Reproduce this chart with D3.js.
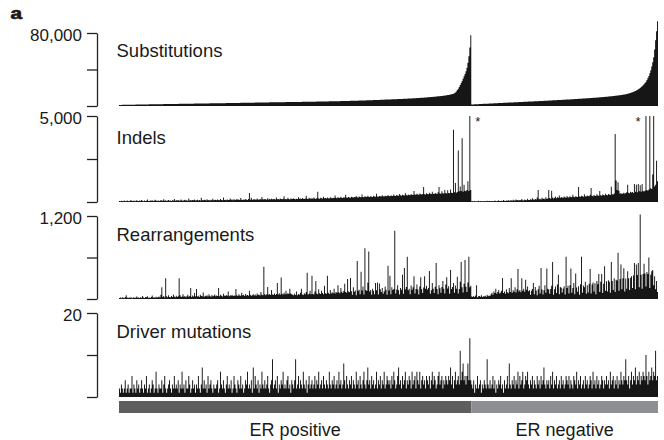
<!DOCTYPE html>
<html>
<head>
<meta charset="utf-8">
<script src="https://cdn.jsdelivr.net/npm/d3@7"></script>
<style>
  html, body { margin: 0; padding: 0; background: #fff; }
  svg { display: block; }
  text { font-family: "Liberation Sans", Arial, Helvetica, sans-serif; fill: #1a1a1a; }
</style>
</head>
<body>
<svg id="chart" width="664" height="440"></svg>
<script>
// Samples are ordered by substitution burden within each ER group.
const groups = ["ER positive", "ER negative"];
const panelTitles = ["Substitutions", "Indels", "Rearrangements", "Driver mutations"];
const axisMax = [80000, 5000, 1200, 20];

// Substitutions per sample
const subsPos = [
  1180,1210,1230,1260,1270,1300,1310,1340,1360,1370,1400,1410,1430,1460,1470,1490,1500,1530,1550,1560,
  1580,1600,1610,1640,1660,1670,1690,1720,1730,1750,1760,1790,1810,1820,1850,1860,1880,1900,1910,1940,
  1950,1970,1990,2000,2020,2050,2060,2080,2090,2110,2130,2140,2170,2180,2200,2210,2240,2250,2270,2290,
  2300,2320,2340,2360,2370,2390,2410,2420,2450,2460,2480,2490,2510,2530,2540,2570,2580,2600,2610,2630,
  2650,2660,2690,2700,2720,2730,2750,2770,2780,2800,2820,2830,2860,2870,2890,2900,2920,2940,2950,2970,
  2990,3000,3020,3040,3050,3070,3090,3100,3120,3140,3150,3170,3190,3200,3220,3240,3260,3270,3290,3310,
  3320,3340,3360,3380,3390,3410,3430,3450,3460,3480,3500,3520,3540,3550,3570,3590,3610,3630,3640,3660,
  3680,3700,3720,3740,3750,3770,3790,3810,3830,3850,3870,3890,3900,3920,3940,3960,3980,4000,4020,4040,
  4050,4070,4080,4100,4110,4130,4140,4160,4170,4190,4200,4220,4230,4250,4270,4280,4300,4310,4330,4350,
  4360,4380,4400,4410,4430,4450,4460,4480,4500,4520,4530,4550,4570,4590,4600,4620,4640,4660,4680,4700,
  4710,4730,4750,4770,4790,4810,4830,4850,4870,4890,4910,4930,4950,4970,4990,5010,5040,5060,5080,5100,
  5120,5150,5170,5190,5220,5240,5260,5290,5310,5340,5360,5390,5410,5440,5460,5490,5520,5540,5570,5600,
  5630,5660,5690,5720,5750,5780,5810,5840,5870,5900,5940,5970,6000,6040,6070,6110,6140,6180,6220,6250,
  6290,6330,6370,6410,6450,6490,6530,6580,6620,6660,6710,6750,6800,6850,6890,6940,6990,7040,7090,7150,
  7180,7220,7260,7300,7340,7380,7420,7460,7500,7540,7590,7630,7680,7720,7770,7810,7860,7910,7960,8020,
  8100,8160,8220,8280,8340,8400,8470,8530,8600,8660,8730,8800,8870,8940,9010,9090,9160,9240,9320,9400,
  9480,9560,9650,9740,9830,9920,10020,10120,10220,10330,10440,10550,10670,10790,10920,11050,11190,11330,11480,11640,
  11800,11980,12170,12370,12590,12830,13090,13380,14000,14900,16000,17400,19000,20900,22900,25100,27500,30000,32600,35200,
  38200,42000,47500,54500,64000,77500
];
const subsNeg = [
  1600,1680,1750,1810,1880,1940,2000,2050,2110,2170,2220,2280,2330,2390,2440,2500,2550,2600,2660,2710,
  2760,2810,2870,2920,2970,3020,3080,3130,3180,3230,3290,3340,3390,3440,3500,3550,3600,3650,3700,3760,
  3810,3860,3910,3960,4010,4070,4120,4170,4220,4270,4330,4380,4430,4480,4530,4590,4640,4690,4740,4800,
  4850,4900,4960,5010,5060,5120,5170,5220,5280,5330,5390,5440,5500,5550,5610,5660,5720,5770,5830,5890,
  5940,6000,6060,6110,6170,6230,6290,6350,6400,6460,6520,6580,6640,6700,6760,6820,6880,6940,7000,7070,
  7130,7190,7250,7320,7380,7440,7510,7570,7640,7700,7770,7840,7900,7970,8040,8110,8180,8250,8320,8390,
  8460,8530,8610,8680,8760,8830,8910,8990,9070,9150,9230,9310,9400,9480,9570,9660,9750,9840,9940,10030,
  10130,10230,10340,10440,10550,10660,10780,10900,11020,11150,11280,11420,11560,11710,11860,12020,12190,12360,12540,12730,
  12950,13200,13460,13740,14040,14370,14720,15100,15520,15980,16480,17030,17640,18300,19030,19830,20700,21650,22700,23850,
  25200,26700,28500,30600,33000,35900,39300,43300,48000,53500,62000,72000,82000,93000
];

// Indels per sample
const indelPos = [
  60,45,70,55,40,80,65,50,90,60,45,75,120,55,60,85,50,70,95,60,
  55,80,65,110,70,50,90,60,75,140,65,55,85,70,100,60,75,130,80,65,
  90,70,60,115,85,75,160,70,95,65,80,120,75,90,60,105,85,170,70,95,
  80,110,75,90,150,85,70,100,130,80,95,75,210,90,110,85,120,95,140,80,
  100,130,90,115,85,240,105,95,125,110,90,160,100,120,85,135,105,190,95,115,
  125,100,145,110,95,170,120,105,260,115,130,100,150,120,110,200,125,140,105,160,
  130,115,180,125,140,110,230,135,120,150,125,165,140,120,170,520,130,250,135,150,
  160,140,125,200,150,135,175,145,290,155,140,180,160,135,220,150,170,145,190,160,
  155,175,140,260,165,180,150,210,170,155,190,330,165,180,160,240,175,150,200,185,
  170,220,180,160,195,175,280,185,200,170,230,190,175,210,360,195,180,250,200,185,
  215,190,260,205,180,230,590,210,195,240,220,205,300,215,230,200,260,225,210,280,
  230,215,250,235,380,240,220,270,245,230,300,250,235,275,255,420,260,240,290,265,
  250,310,270,255,290,275,350,280,260,320,290,270,440,295,280,330,300,285,370,305,
  290,340,310,295,360,320,300,480,325,310,350,330,315,390,340,320,370,345,330,410,
  350,335,380,360,345,430,370,355,400,380,365,470,390,370,420,395,380,520,400,385,
  430,410,395,460,420,405,640,430,415,480,440,420,500,445,430,470,870,455,440,510,
  465,450,540,475,460,600,480,465,520,490,470,560,870,500,480,620,510,490,700,520,
  500,680,530,510,720,540,520,4200,560,1100,540,580,3000,620,900,640,3700,600,1000,650,
  620,700,1200,640,7500,700
];
const indelNeg = [
  40,55,35,60,45,50,40,70,45,55,50,40,65,45,60,50,75,45,55,60,
  50,65,55,45,80,60,50,70,90,55,65,75,60,110,70,65,85,75,95,70,
  85,100,75,130,90,80,150,95,110,85,120,100,170,105,90,140,115,100,190,120,
  110,160,130,220,140,125,180,150,260,700,165,190,150,240,175,200,160,280,185,210,
  700,230,190,650,260,210,240,300,220,270,250,380,230,290,260,240,320,270,250,350,
  280,260,330,290,270,420,300,280,340,310,290,870,320,300,360,330,310,450,340,320,
  380,350,330,420,820,360,340,400,370,350,450,380,360,640,390,370,430,400,380,480,
  410,390,460,430,410,880,450,430,500,3950,1250,700,1150,650,480,520,460,500,540,480,
  520,560,1000,540,510,600,550,580,530,1050,600,1000,570,1050,620,980,590,1040,640,610,
  660,7000,700,650,720,7000,800,760,1600,7000,900,1000,2400,1200
];

// Structural rearrangements per sample
const rearrPos = [
  15,20,12,25,18,10,30,55,22,14,20,16,28,12,18,24,15,20,35,17,
  22,14,26,18,45,20,16,30,24,40,18,22,15,28,50,20,25,18,32,22,
  26,35,20,60,170,28,45,22,300,38,25,55,30,24,42,28,65,35,26,48,
  30,40,300,55,28,36,70,32,45,26,38,60,34,42,160,30,50,36,85,40,
  145,35,48,30,60,42,38,95,33,46,40,55,36,70,44,32,58,40,48,65,
  38,52,44,160,40,60,48,36,75,50,42,58,46,110,40,55,48,62,44,52,
  48,145,56,42,68,50,46,90,54,60,44,72,50,58,46,120,62,48,56,70,
  52,64,48,80,58,66,50,100,62,56,465,70,54,68,175,60,74,58,130,66,
  62,80,58,72,230,66,84,60,310,76,64,90,70,120,68,86,74,150,78,70,
  62,54,80,58,110,56,72,60,90,150,66,58,84,70,100,380,64,76,120,68,
  335,74,66,110,260,78,70,140,82,72,120,88,70,190,84,76,335,92,74,130,
  80,96,84,150,78,102,90,200,98,82,160,106,88,116,220,100,90,290,108,96,
  305,112,60,170,106,124,55,550,118,132,70,395,122,180,65,735,130,116,240,685,
  110,130,60,150,118,70,230,126,240,65,225,140,100,160,75,108,180,134,60,480,
  124,335,70,170,130,146,985,80,136,200,126,65,160,132,350,75,450,140,172,610,
  128,150,70,196,134,170,330,80,146,210,138,65,180,315,142,85,166,330,148,190,
  136,160,405,75,128,230,150,85,176,520,146,70,200,156,90,172,260,148,80,210,
  315,152,186,75,420,146,174,230,90,196,150,320,80,144,250,535,170,95,220,565,
  178,100,240,610,170,190
];
const rearrNeg = [
  35,28,42,30,50,200,26,38,44,32,55,30,40,36,48,34,60,40,52,45,
  70,90,60,110,85,150,75,100,130,80,95,120,305,88,110,76,140,96,84,160,
  100,300,90,125,105,170,95,140,435,110,130,98,300,120,150,104,280,135,180,112,
  125,60,118,145,230,70,175,122,55,140,190,80,450,136,65,126,200,90,440,150,
  138,75,146,190,535,60,140,180,85,210,350,70,175,162,95,152,185,65,610,158,
  190,80,200,440,90,160,230,70,370,168,105,186,60,215,610,90,196,170,250,75,
  200,95,220,435,80,210,240,110,226,70,260,214,360,100,250,360,85,222,475,120,
  256,110,270,250,90,535,262,130,300,100,280,266,670,120,290,500,140,300,445,110,
  296,150,400,300,130,306,330,160,340,520,140,500,346,520,170,1220,350,150,360,510,
  370,180,390,360,600,160,350,400,420,200,330,140,260,100
];

// Driver mutations per sample
const driverPos = [
  2,1,3,2,1,2,4,1,2,3,1,2,2,5,1,3,2,1,4,2,
  3,1,2,4,2,1,3,2,5,1,2,3,1,2,4,3,1,2,6,2,
  1,3,2,2,4,1,3,5,2,1,2,3,4,2,1,3,2,5,2,3,
  2,4,1,3,2,6,2,3,1,4,2,2,5,3,1,2,4,2,3,1,
  3,2,5,2,1,3,7,2,4,2,3,1,5,2,3,4,2,1,3,2,
  2,3,4,1,2,6,3,2,4,2,1,3,5,2,3,2,4,1,2,5,
  3,2,1,4,3,2,5,2,3,1,2,4,3,6,2,3,2,4,1,7,
  2,5,3,2,4,1,3,2,6,3,2,4,2,3,5,2,1,3,4,9,
  2,3,4,2,5,1,3,2,4,3,6,2,3,2,4,5,2,3,1,4,
  3,2,4,9,2,3,5,2,4,3,2,6,3,2,4,1,3,5,2,3,
  4,2,3,5,2,4,3,6,2,3,4,2,5,3,2,4,3,2,6,3,
  2,4,3,5,2,3,4,2,6,3,4,2,3,8,4,2,5,3,2,4,
  3,5,2,4,3,2,6,3,4,2,5,3,2,4,6,3,2,4,7,3,
  4,2,5,3,4,2,3,6,2,4,3,5,2,4,3,6,2,3,5,4,
  3,4,2,5,3,6,4,2,3,5,7,3,4,2,5,3,4,6,2,4,
  3,5,4,2,6,3,4,5,2,6,4,3,6,2,4,5,3,4,2,5,
  4,3,5,2,4,6,3,5,4,2,3,5,6,3,4,5,2,4,3,5,
  4,3,5,4,7,3,5,2,4,6,3,4,5,3,11,4,6,8,4,5,
  3,5,8,4,14,4
];
const driverNeg = [
  3,2,4,1,3,2,5,2,3,4,1,3,2,4,3,2,9,3,2,4,
  2,3,5,2,4,1,3,2,4,3,5,2,3,1,4,2,3,5,2,8,
  3,2,4,3,5,2,4,3,6,2,5,3,4,6,2,3,5,4,6,3,
  2,4,3,5,2,4,3,2,5,3,4,2,5,3,4,7,3,2,4,3,
  4,2,5,3,6,2,4,3,5,2,3,4,2,5,3,4,2,3,5,4,
  3,5,2,4,3,2,5,4,3,6,2,4,3,5,2,3,4,2,5,3,
  4,2,3,5,4,2,6,3,4,2,5,3,4,2,3,5,4,2,4,3,
  5,3,4,2,6,3,4,5,2,4,3,5,2,4,3,6,4,3,5,4,
  9,4,3,5,2,4,6,3,5,4,7,3,5,4,6,3,5,4,6,5,
  4,10,5,3,6,4,5,7,4,6,5,11,4,5
];

// ---- layout -------------------------------------------------------------
const svg = d3.select("#chart");
const axisX = 97;
const plotLeft = 119, plotRight = 658;
const barColor = "#161616";
const groupColors = ["#5e5e5e", "#8e8f92"];

// vertical extent of each panel: baseline, top tick, and title baseline
const panelBox = [
  { y0: 106, y1: 33,  titleY: 56.5 },
  { y0: 202, y1: 116, titleY: 144 },
  { y0: 299, y1: 216, titleY: 240.5 },
  { y0: 397, y1: 313, titleY: 337.5 }
];
const panelData = [
  [subsPos, subsNeg],
  [indelPos, indelNeg],
  [rearrPos, rearrNeg],
  [driverPos, driverNeg]
];
const clipAtMax = [false, true, false, false];

const nPos = subsPos.length, nNeg = subsNeg.length, nAll = nPos + nNeg;
const x = d3.scaleBand().domain(d3.range(nAll)).range([plotLeft, plotRight]).padding(0);
const bw = x.bandwidth();
const xEdge = i => (i < nAll ? x(i) : plotRight);

// panel letter
svg.append("text")
  .attr("transform", "translate(10.5,18.5) scale(1.22,1)")
  .attr("font-size", 17).attr("font-weight", 900)
  .attr("stroke", "#1a1a1a").attr("stroke-width", 0.7)
  .text("a");

panelTitles.forEach((title, p) => {
  const box = panelBox[p];
  const max = axisMax[p];
  const y = d3.scaleLinear().domain([0, max]).range([box.y0, box.y1]).clamp(clipAtMax[p]);
  const values = panelData[p][0].concat(panelData[p][1]);

  const g = svg.append("g");

  // one column per sample, drawn as a stepped outline so neighbouring
  // columns merge into a solid body without seams
  const pts = values.map((v, i) => ({ i, v }));
  pts.push({ i: nAll, v: values[nAll - 1] });
  const area = d3.area()
    .x(d => xEdge(d.i))
    .y0(box.y0)
    .y1(d => y(d.v))
    .curve(d3.curveStepAfter);
  g.append("path")
    .datum(pts)
    .attr("d", area)
    .attr("fill", barColor);

  // axis with ticks at 0, half and max; only the max is labelled
  const axis = d3.axisLeft(y)
    .tickValues([0, max / 2, max])
    .tickSize(10)
    .tickSizeOuter(0)
    .tickPadding(5)
    .tickFormat(d => d === max ? d3.format(",")(d) : "");
  const ag = g.append("g")
    .attr("transform", `translate(${axisX},0)`)
    .call(axis);
  ag.select(".domain").attr("stroke", "#222").attr("stroke-width", 1.3);
  ag.selectAll(".tick line").attr("stroke", "#222").attr("stroke-width", 1.3);
  ag.selectAll(".tick text")
    .attr("font-size", 17)
    .attr("font-family", "'Liberation Sans', Arial, Helvetica, sans-serif")
    .attr("fill", "#1a1a1a")
    .attr("dy", 7.5);

  // panel title
  g.append("text")
    .attr("x", 116.5).attr("y", box.titleY)
    .attr("font-size", 18.5)
    .text(title);

  // asterisks beside bars that run past the top of a clipped axis
  if (clipAtMax[p]) {
    const [posVals, negVals] = panelData[p];
    const lastPos = d3.max(posVals.map((v, i) => v > max ? i : -1));
    const firstNeg = negVals.findIndex(v => v > max);
    const stars = [];
    if (lastPos >= 0) stars.push(x(lastPos) + bw / 2 + 8);
    if (firstNeg >= 0) stars.push(x(nPos + firstNeg) + bw / 2 - 8);
    g.selectAll("text.star")
      .data(stars)
      .join("text")
      .attr("class", "star")
      .attr("x", d => d).attr("y", box.y1 + 10)
      .attr("text-anchor", "middle")
      .attr("font-size", 13)
      .text("*");
  }
});

// ER status bar and labels
const groupSpans = [[0, nPos], [nPos, nAll]];
groupSpans.forEach(([a, b], k) => {
  const x0 = xEdge(a), x1 = xEdge(b);
  svg.append("rect")
    .attr("x", x0).attr("y", 401)
    .attr("width", x1 - x0).attr("height", 12)
    .attr("fill", groupColors[k]);
  svg.append("text")
    .attr("x", (x0 + x1) / 2).attr("y", 435.5)
    .attr("text-anchor", "middle")
    .attr("font-size", 18)
    .text(groups[k]);
});
</script>
</body>
</html>
